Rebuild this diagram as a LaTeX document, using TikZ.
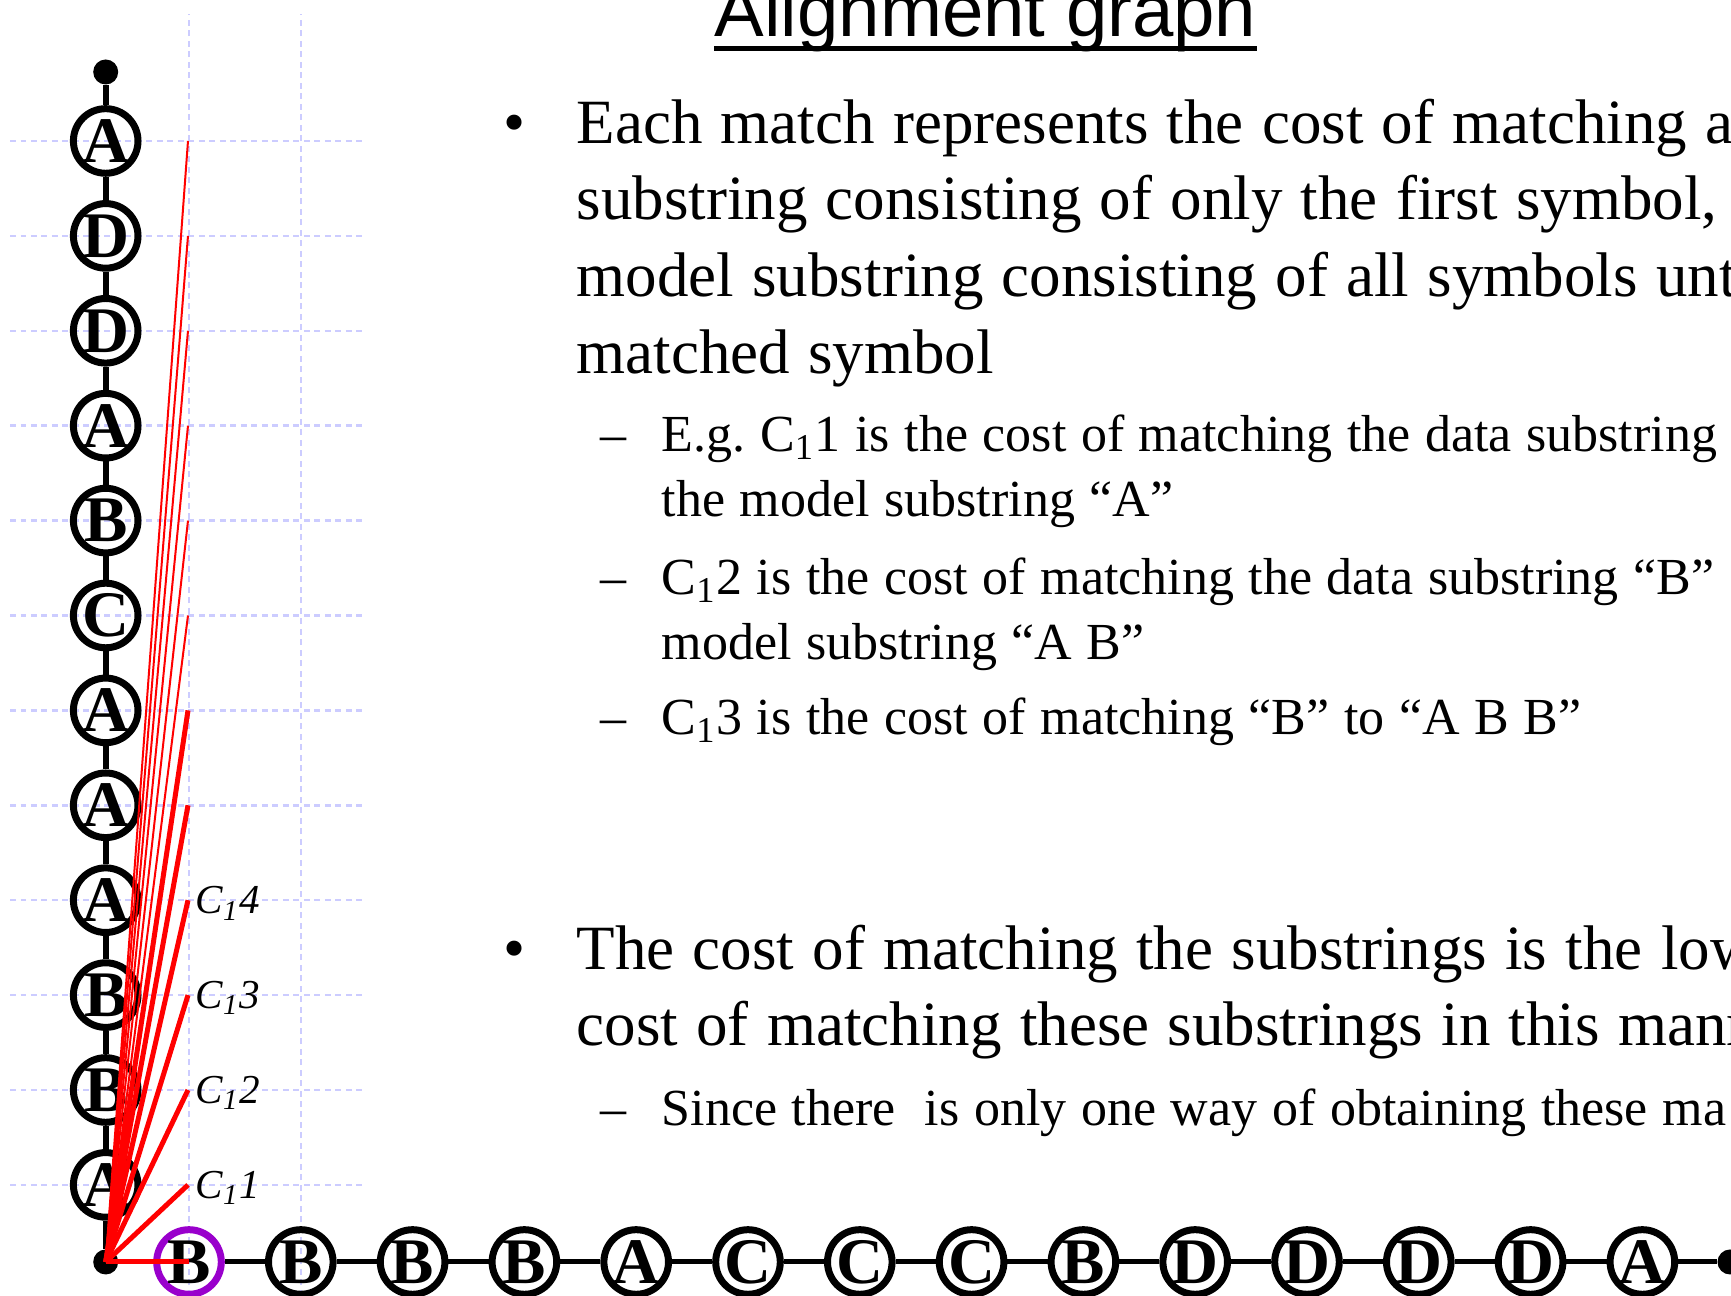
\documentclass[tikz,border=0pt]{standalone}
\usepackage{fontspec}
\setmainfont{Liberation Serif}
\newfontfamily\titlefont{Liberation Sans}
\definecolor{gridblue}{HTML}{CCCCFF}
\definecolor{matchpurple}{HTML}{9900CC}
\frenchspacing
\newcommand{\mainsp}{\spaceskip=0.29em\relax}
\newcommand{\subsp}{\spaceskip=0.28em\relax}

\begin{document}
\begin{tikzpicture}[
 sym/.style={circle,draw,line width=0.07cm,minimum size=0.646cm,inner sep=0pt,
   font=\fontsize{18.5}{18.5}\selectfont\bfseries},
 term/.style={circle,fill,inner sep=0pt,minimum size=0.25cm},
 link/.style={line width=0.06cm},
 hlink/.style={line width=0.05cm},
 gridln/.style={gridblue,line width=0.025cm,dash pattern=on 0.06cm off 0.045cm},
 cost/.style={red,line width=0.05cm},
 costthin/.style={red,line width=0.02cm},
 lbl/.style={anchor=base west,inner sep=0pt,font=\fontsize{11.7}{11.7}\selectfont\itshape},
 txt/.style={anchor=base west,inner sep=0pt,text width=14cm,align=left,
   font=\fontsize{17.93}{21.82}\selectfont,execute at begin node=\mainsp},
 subtxt/.style={anchor=base west,inner sep=0pt,text width=14cm,align=left,
   font=\fontsize{14.8}{18.49}\selectfont,execute at begin node=\subsp},
 bmark/.style={anchor=base,inner sep=0pt,font=\fontsize{17.93}{21.82}\selectfont},
 dmark/.style={anchor=base,inner sep=0pt,font=\fontsize{14.8}{18.49}\selectfont}]
\useasboundingbox (0,0) rectangle (17.31,12.96);
\clip (0,0) rectangle (17.31,12.96);
% grid
\foreach \i in {0,...,11}
  \draw[gridln] (0.10,{1.111+0.949*\i}) -- (3.65,{1.111+0.949*\i});
\foreach \x in {1.89,3.008}
  \draw[gridln] (\x,0) -- (\x,12.82);
% model string (vertical)
\node[term] (o) at (1.057,0.34) {};
\foreach \t [count=\i] in {A,B,B,A,A,A,C,B,A,D,D,A}
  \node[sym] (m\i) at (1.057,{1.111+0.949*(\i-1)}) {\t};
\node[term] (mt) at (1.057,12.24) {};
\draw[link] (o) -- (m1) -- (m2) -- (m3) -- (m4) -- (m5) -- (m6) -- (m7)
  -- (m8) -- (m9) -- (m10) -- (m11) -- (m12) -- (mt);
% data string (horizontal)
\node[sym,draw=matchpurple] (d1) at (1.89,0.34) {B};
\foreach \t [count=\j from 2] in {B,B,B,A,C,C,C,B,D,D,D,D,A}
  \node[sym] (d\j) at ({1.89+1.118*(\j-1)},0.34) {\t};
\node[term] (de) at (17.30,0.34) {};
\draw[hlink] (o) -- (d1) -- (d2) -- (d3) -- (d4) -- (d5) -- (d6) -- (d7)
  -- (d8) -- (d9) -- (d10) -- (d11) -- (d12) -- (d13) -- (d14) -- (de);
% match costs
\foreach \i in {1,...,12}
  \coordinate (c\i) at (1.88,{1.111+0.949*(\i-1)});
\draw[cost] (o.center) -- (d1.center);
\foreach \i in {1,...,6} \draw[cost] (o.center) -- (c\i);
\foreach \i in {7,...,12} \draw[costthin] (o.center) -- (c\i);
\foreach \i in {1,...,4}
  \node[lbl] (l\i) at ([xshift=0.07cm,yshift=-0.135cm]c\i) {C\textsubscript{1}\i};
% title and text
\node[anchor=base west,inner sep=0pt,font=\titlefont\fontsize{21.17}{21.17}\selectfont]
  (t) at (7.14,12.59) {Alignment graph};
\draw[line width=0.05cm] ([yshift=-0.113cm]t.base west) -- ([yshift=-0.113cm]t.base east);
\node[bmark] (bu1) at (5.15,11.527) {•};
\node[txt] (b1) at (5.76,11.527)
  {Each match represents the cost of matching a\\
   substring consisting of only the first symbol,\\
   model substring consisting of all symbols unt\\
   matched symbol};
\node[dmark] (da1) at (6.13,8.443) {–};
\node[subtxt] (s1) at (6.61,8.443)
  {E.g. C\textsubscript{1}1 is the cost of matching the data substring\\
   the model substring “A”};
\node[dmark] (da2) at (6.13,7.01) {–};
\node[subtxt] (s2) at (6.61,7.01)
  {C\textsubscript{1}2 is the cost of matching the data substring “B”\\
   model substring “A B”};
\node[dmark] (da3) at (6.13,5.61) {–};
\node[subtxt] (s3) at (6.61,5.61)
  {C\textsubscript{1}3 is the cost of matching “B” to “A B B”};
\node[bmark] (bu2) at (5.15,3.267) {•};
\node[txt] (b2) at (5.76,3.267)
  {The cost of matching the substrings is the low\\
   cost of matching these substrings in this mann};
\node[dmark] (da4) at (6.13,1.70) {–};
\node[subtxt] (s4) at (6.61,1.70)
  {Since there\ \ is only one way of obtaining these ma};
\end{tikzpicture}
\end{document}
